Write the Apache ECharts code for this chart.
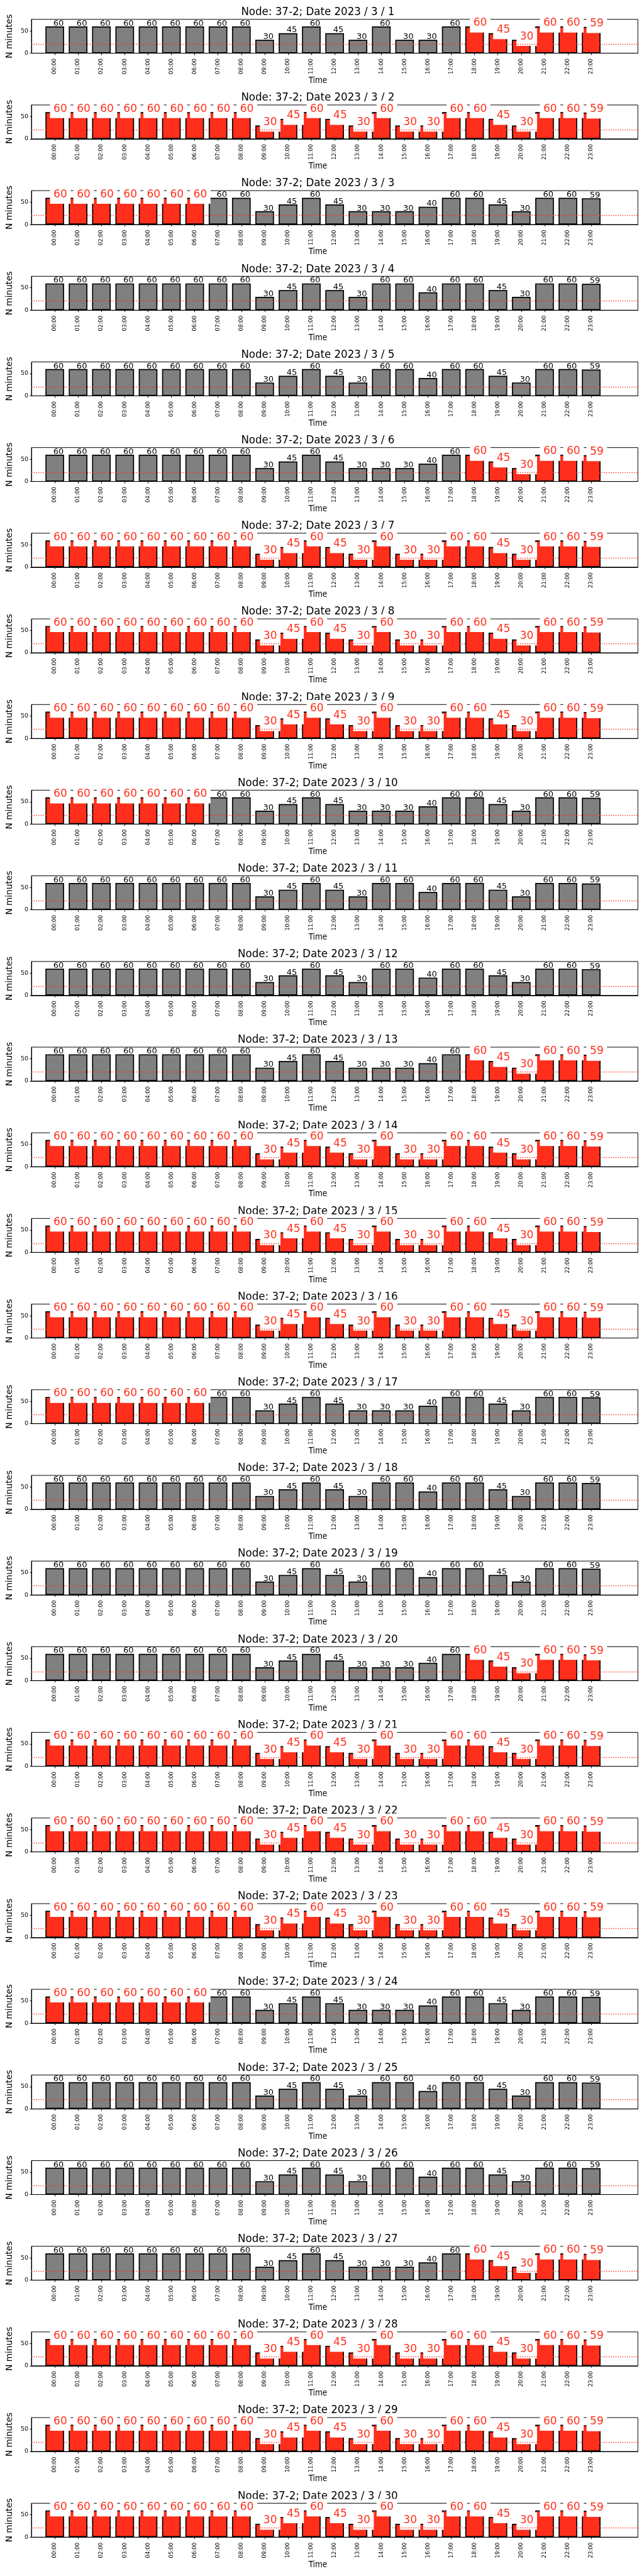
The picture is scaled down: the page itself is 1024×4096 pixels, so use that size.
<!DOCTYPE html>
<html><head><meta charset="utf-8">
<script src="https://cdn.jsdelivr.net/npm/echarts@6/dist/echarts.min.js"></script>
<style>html,body{margin:0;padding:0;background:#fff}#c{width:1024px;height:4096px}</style>
</head><body><div id="c"></div>
<script>
// ---------------- data ----------------
const nodeName = '37-2';
const hours = ['00:00','01:00','02:00','03:00','04:00','05:00','06:00','07:00','08:00','09:00','10:00','11:00',
               '12:00','13:00','14:00','15:00','16:00','17:00','18:00','19:00','20:00','21:00','22:00','23:00'];
const dates = ['2023 / 3 / 1','2023 / 3 / 2','2023 / 3 / 3','2023 / 3 / 4','2023 / 3 / 5','2023 / 3 / 6','2023 / 3 / 7',
               '2023 / 3 / 8','2023 / 3 / 9','2023 / 3 / 10','2023 / 3 / 11','2023 / 3 / 12','2023 / 3 / 13','2023 / 3 / 14',
               '2023 / 3 / 15','2023 / 3 / 16','2023 / 3 / 17','2023 / 3 / 18','2023 / 3 / 19','2023 / 3 / 20','2023 / 3 / 21',
               '2023 / 3 / 22','2023 / 3 / 23','2023 / 3 / 24','2023 / 3 / 25','2023 / 3 / 26','2023 / 3 / 27','2023 / 3 / 28',
               '2023 / 3 / 29','2023 / 3 / 30'];
const day01 = [60,60,60,60,60,60,60,60,60,30,45,60,45,30,60,30,30,60,60,45,30,60,60,59];
const day02 = [60,60,60,60,60,60,60,60,60,30,45,60,45,30,60,30,30,60,60,45,30,60,60,59];
const day03 = [60,60,60,60,60,60,60,60,60,30,45,60,45,30,30,30,40,60,60,45,30,60,60,59];
const day04 = [60,60,60,60,60,60,60,60,60,30,45,60,45,30,60,60,40,60,60,45,30,60,60,59];
const day05 = [60,60,60,60,60,60,60,60,60,30,45,60,45,30,60,60,40,60,60,45,30,60,60,59];
const day06 = [60,60,60,60,60,60,60,60,60,30,45,60,45,30,30,30,40,60,60,45,30,60,60,59];
const day07 = [60,60,60,60,60,60,60,60,60,30,45,60,45,30,60,30,30,60,60,45,30,60,60,59];
const day08 = [60,60,60,60,60,60,60,60,60,30,45,60,45,30,60,30,30,60,60,45,30,60,60,59];
const day09 = [60,60,60,60,60,60,60,60,60,30,45,60,45,30,60,30,30,60,60,45,30,60,60,59];
const day10 = [60,60,60,60,60,60,60,60,60,30,45,60,45,30,30,30,40,60,60,45,30,60,60,59];
const day11 = [60,60,60,60,60,60,60,60,60,30,45,60,45,30,60,60,40,60,60,45,30,60,60,59];
const day12 = [60,60,60,60,60,60,60,60,60,30,45,60,45,30,60,60,40,60,60,45,30,60,60,59];
const day13 = [60,60,60,60,60,60,60,60,60,30,45,60,45,30,30,30,40,60,60,45,30,60,60,59];
const day14 = [60,60,60,60,60,60,60,60,60,30,45,60,45,30,60,30,30,60,60,45,30,60,60,59];
const day15 = [60,60,60,60,60,60,60,60,60,30,45,60,45,30,60,30,30,60,60,45,30,60,60,59];
const day16 = [60,60,60,60,60,60,60,60,60,30,45,60,45,30,60,30,30,60,60,45,30,60,60,59];
const day17 = [60,60,60,60,60,60,60,60,60,30,45,60,45,30,30,30,40,60,60,45,30,60,60,59];
const day18 = [60,60,60,60,60,60,60,60,60,30,45,60,45,30,60,60,40,60,60,45,30,60,60,59];
const day19 = [60,60,60,60,60,60,60,60,60,30,45,60,45,30,60,60,40,60,60,45,30,60,60,59];
const day20 = [60,60,60,60,60,60,60,60,60,30,45,60,45,30,30,30,40,60,60,45,30,60,60,59];
const day21 = [60,60,60,60,60,60,60,60,60,30,45,60,45,30,60,30,30,60,60,45,30,60,60,59];
const day22 = [60,60,60,60,60,60,60,60,60,30,45,60,45,30,60,30,30,60,60,45,30,60,60,59];
const day23 = [60,60,60,60,60,60,60,60,60,30,45,60,45,30,60,30,30,60,60,45,30,60,60,59];
const day24 = [60,60,60,60,60,60,60,60,60,30,45,60,45,30,30,30,40,60,60,45,30,60,60,59];
const day25 = [60,60,60,60,60,60,60,60,60,30,45,60,45,30,60,60,40,60,60,45,30,60,60,59];
const day26 = [60,60,60,60,60,60,60,60,60,30,45,60,45,30,60,60,40,60,60,45,30,60,60,59];
const day27 = [60,60,60,60,60,60,60,60,60,30,45,60,45,30,30,30,40,60,60,45,30,60,60,59];
const day28 = [60,60,60,60,60,60,60,60,60,30,45,60,45,30,60,30,30,60,60,45,30,60,60,59];
const day29 = [60,60,60,60,60,60,60,60,60,30,45,60,45,30,60,30,30,60,60,45,30,60,60,59];
const day30 = [60,60,60,60,60,60,60,60,60,30,45,60,45,30,60,30,30,60,60,45,30,60,60,59];
// '1' = hour flagged (drawn red)
const redMask = [
 '000000000000000000111111','111111111111111111111111','111111100000000000000000','000000000000000000000000',
 '000000000000000000000000','000000000000000000111111','111111111111111111111111','111111111111111111111111',
 '111111111111111111111111','111111100000000000000000','000000000000000000000000','000000000000000000000000',
 '000000000000000000111111','111111111111111111111111','111111111111111111111111','111111111111111111111111',
 '111111100000000000000000','000000000000000000000000','000000000000000000000000','000000000000000000111111',
 '111111111111111111111111','111111111111111111111111','111111111111111111111111','111111100000000000000000',
 '000000000000000000000000','000000000000000000000000','000000000000000000111111','111111111111111111111111',
 '111111111111111111111111','111111111111111111111111'];
const threshold = 20.5;
const yMax = 76;
const yTicks = [0, 50];
const minutesByDay = [day01,day02,day03,day04,day05,day06,day07,day08,day09,day10,day11,day12,day13,day14,day15,
                      day16,day17,day18,day19,day20,day21,day22,day23,day24,day25,day26,day27,day28,day29,day30];

// ---------------- layout / style ----------------
const K = 1024 / 1500;
const PANEL = 199.5 * K;
const GRID_LEFT = 68.3 * K, GRID_W = (1485.7 - 68.3) * K;
const GRID_TOP = 45 * K, GRID_H = 79 * K;
const CX = 740.3 * K;
const RED = '#ff2f1c', GRAY = '#808080';
const BASE_FONT = '"DejaVu Sans", sans-serif';
const COND_FONT = '"DejaVu Sans Condensed", "DejaVu Sans", sans-serif';

const cats = ['-1'].concat(hours, ['24', '25']);
const inRange = (idx) => idx >= 1 && idx <= 24;

const grids = [], xAxes = [], yAxes = [], series = [], graphics = [];
minutesByDay.forEach((vals, d) => {
  const oy = d * PANEL;
  grids.push({left: GRID_LEFT, top: oy + GRID_TOP, width: GRID_W, height: GRID_H,
              show: true, borderColor: '#000', borderWidth: 1, backgroundColor: 'transparent', containLabel: false});
  xAxes.push({type: 'category', gridIndex: d, data: cats, boundaryGap: false,
    axisLine: {show: true, lineStyle: {color: '#000', width: 1}},
    axisTick: {show: true, interval: inRange, length: 3, lineStyle: {color: '#000', width: 1}},
    axisLabel: {show: true, interval: inRange, rotate: 90, margin: 8.5, fontSize: 8.6, fontFamily: BASE_FONT, color: '#000'},
    splitLine: {show: false}});
  yAxes.push({type: 'value', gridIndex: d, min: 0, max: yMax, interval: 50,
    name: 'N minutes', nameLocation: 'middle', nameGap: 23,
    nameTextStyle: {fontSize: 13.7, fontFamily: BASE_FONT, color: '#000'},
    axisLine: {show: true, lineStyle: {color: '#000', width: 1}},
    axisTick: {show: true, length: 2.5, customValues: yTicks, lineStyle: {color: '#000', width: 1}},
    axisLabel: {show: true, margin: 5, customValues: yTicks, fontSize: 9.5, fontFamily: BASE_FONT, color: '#000'},
    splitLine: {show: false}});
  const mask = redMask[d];
  const data = ['-'];
  vals.forEach((v, h) => {
    const red = mask[h] === '1';
    data.push({
      value: v,
      itemStyle: {color: red ? RED : GRAY, borderColor: '#000', borderWidth: 1.7},
      label: red ? {
        show: true, position: 'top', distance: 0, align: 'left', verticalAlign: 'bottom',
        offset: [-7.5, 9.6], color: RED, fontSize: 17, fontFamily: BASE_FONT,
        backgroundColor: '#fff', padding: [4.9, 5.5, 6.2, 5.5]
      } : {
        show: true, position: 'top', distance: 0, align: 'left', verticalAlign: 'bottom',
        offset: [-2.3, 1.9], color: '#000', fontSize: 13, fontFamily: BASE_FONT
      }
    });
  });
  data.push('-', '-');
  series.push({type: 'bar', xAxisIndex: d, yAxisIndex: d, data: data, barWidth: '80%',
    animation: false, silent: true,
    label: {show: true, formatter: '{c}'},
    markLine: {silent: true, animation: false, symbol: ['none', 'none'], label: {show: false},
      lineStyle: {color: RED, type: [1.4, 2.3], width: 1.4},
      data: [{yAxis: threshold}]}});
  graphics.push({type: 'text', x: CX, y: oy + 9.7, silent: true,
    style: {text: 'Node: ' + nodeName + '; Date ' + dates[d], align: 'center', verticalAlign: 'top',
            fontSize: 18.5, fontFamily: COND_FONT, fill: '#000'}});
  graphics.push({type: 'text', x: CX, y: oy + 122, silent: true,
    style: {text: 'Time', align: 'center', verticalAlign: 'top', fontSize: 13.4, fontFamily: COND_FONT, fill: '#000'}});
});

const chart = echarts.init(document.getElementById('c'), null, {renderer: 'canvas', width: 1024, height: 4096});
chart.setOption({animation: false, backgroundColor: '#fff', grid: grids, xAxis: xAxes, yAxis: yAxes,
                 series: series, graphic: graphics});
</script>
</body></html>
